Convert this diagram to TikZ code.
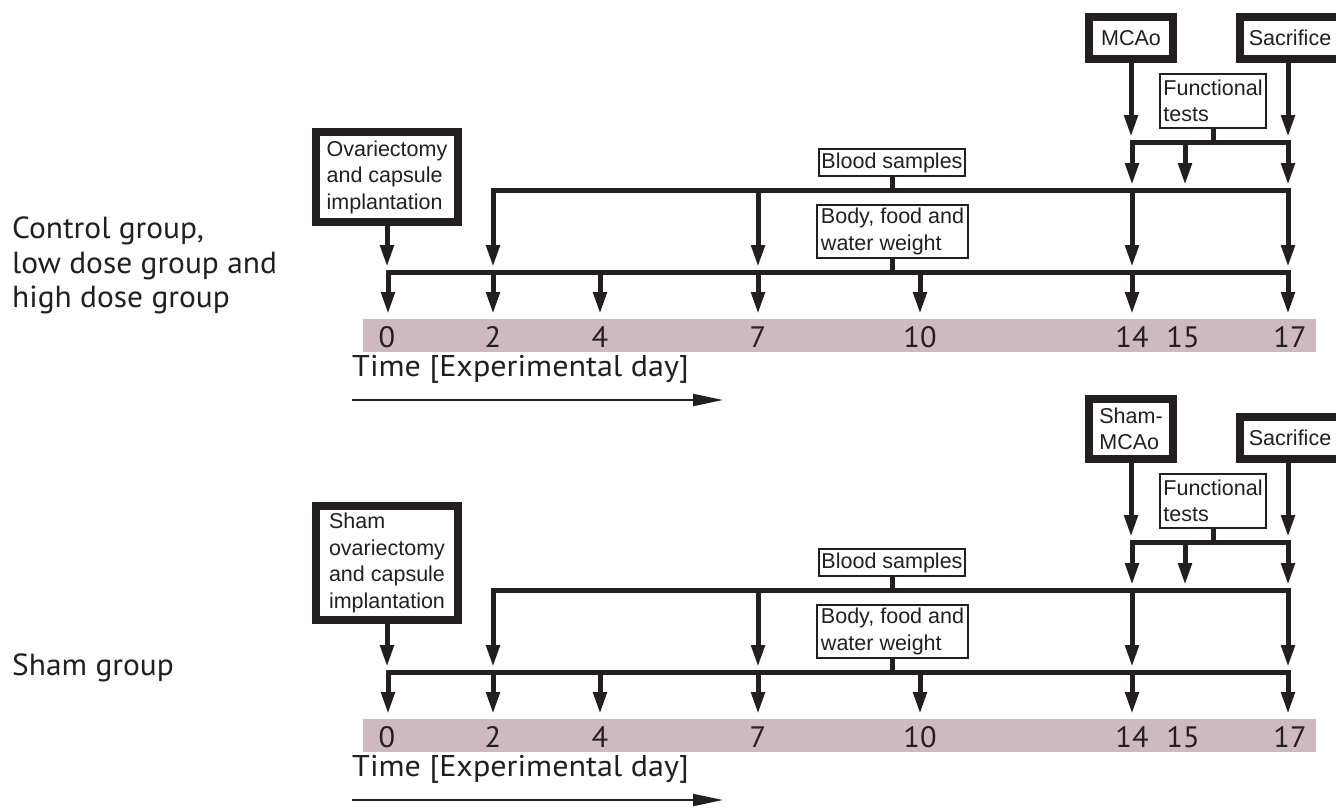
\documentclass[tikz,border=0pt]{standalone}
\usepackage{fontspec}
\setmainfont{Liberation Sans}
\newfontfamily\myr[FakeStretch=1.03]{PT Sans}
\newfontfamily\myrw[FakeStretch=1.07]{PT Sans}
\usetikzlibrary{arrows.meta}
\definecolor{bandpink}{RGB}{206,185,192}
\definecolor{ink}{RGB}{35,31,32}
\newcommand\bxf{\fontsize{21.5pt}{26.5pt}\selectfont}
\newcommand\dayf{\myr\fontsize{29.5pt}{29.5pt}\selectfont}
\newcommand\timef{\myrw\fontsize{30pt}{30pt}\selectfont}
\newcommand\grpf{\myr\fontsize{30.5pt}{35pt}\selectfont}
\tikzset{
  thickbox/.style={draw=ink, line width=8pt, fill=white, align=left, inner sep=1pt, font=\bxf, text=ink},
  thinbox/.style={draw=ink, line width=2pt, fill=white, align=left, inner sep=1pt, font=\bxf, text=ink},
  bar/.style={draw=ink, line width=5pt, line cap=rect},
  flow/.style={draw=ink, line width=5pt, -{Triangle[length=22pt,width=13pt]}, shorten >=5pt},
  band/.style={fill=bandpink, draw=none, inner sep=0pt},
  daylab/.style={font=\dayf, text=ink, anchor=base, inner sep=0pt},
  timelab/.style={font=\timef, text=ink, anchor=base west, inner sep=0pt},
  timearrow/.style={draw=ink, line width=2pt, -{Triangle[length=30pt,width=12pt]}},
  grplab/.style={font=\grpf, text=ink, anchor=base west, inner sep=0pt}
}
% #1 prefix, #2 offset, #3 ova text, #4 ova y, #5 ova h, #6 mcao text, #7 mcao y, #8 mcao h, #9 sac y
\newcommand\panel[9]{%
  \node[thickbox, minimum width=142pt, minimum height=#5pt] (#1ova) at (387,#4) {#3};
  \node[thickbox, minimum width=84pt, minimum height=#8pt] (#1mcao) at (1131,#7) {#6};
  \node[thickbox, minimum width=100pt, minimum height=42pt] (#1sac) at (1290,#9) {Sacrifice};
  \node[thinbox, minimum width=106pt, minimum height=54pt] (#1func) at (1213,{101+#2}) {Functional\\tests};
  \node[thinbox, minimum width=146pt, minimum height=27pt] (#1blood) at (892,{162.5+#2}) {Blood samples};
  \node[thinbox, minimum width=151pt, minimum height=53pt] (#1body) at (892.5,{231.5+#2}) {Body, food and\\water weight};
  \node[band, minimum width=953pt, minimum height=33pt] (#1band) at (839.5,{335.5+#2}) {};
  \coordinate (#1fL) at (1132,{142+#2});
  \coordinate (#1fR) at (1288,{142+#2});
  \coordinate (#1bL) at (493,{190+#2});
  \coordinate (#1bR) at (1288,{190+#2});
  \coordinate (#1wL) at (388,{272+#2});
  \coordinate (#1wR) at (1288,{272+#2});
  \draw[bar] (#1fL) -- (#1fR);
  \draw[bar] (#1bL) -- (#1bR);
  \draw[bar] (#1wL) -- (#1wR);
  \draw[bar] (#1func.south) -- (#1func.south |- #1fL);
  \draw[bar] (#1blood.south) -- (#1blood.south |- #1bL);
  \draw[bar] (#1body.south) -- (#1body.south |- #1wL);
  \draw[flow] (#1mcao.south) -- (#1mcao.south |- #1fL);
  \draw[flow] (#1sac.south -| #1fR) -- (#1fR);
  \draw[flow] (#1ova.south) -- (#1ova.south |- #1wL);
  \foreach \x in {1132,1185,1288} \draw[flow] (\x,{142+#2}) -- (\x,{190+#2});
  \foreach \x in {493,758,1132,1288} \draw[flow] (\x,{190+#2}) -- (\x,{272+#2});
  \foreach \x in {388,493,600,758,920,1132,1288} \draw[flow] (\x,{272+#2}) -- (\x,{319+#2});
  \foreach \x/\d in {387/0,493/2,600/4,758/7,920/10,1132/14,1183/15,1290/17}
    \node[daylab] (#1day\d) at (\x,{347+#2}) {\d};
  \node[timelab] (#1time) at (352,{376+#2}) {Time [Experimental day]};
  \coordinate (#1ta) at (352,{400+#2});
  \coordinate (#1tb) at (723,{400+#2});
  \draw[timearrow] (#1ta) -- (#1tb);
}
\begin{document}
\begin{tikzpicture}[x=1pt,y=-1pt]
\useasboundingbox (0,0) rectangle (1336,808);
\clip (0,0) rectangle (1336,808);
\fill[white] (0,0) rectangle (1336,808);
\panel{t}{0}{Ovariectomy\\and capsule\\implantation}{177}{90}{MCAo}{38}{42}{38}
\panel{s}{400}{Sham\\ovariectomy\\and capsule\\implantation}{563}{114}{Sham-\\MCAo}{429}{60}{438}
\node[grplab] (g1) at (12,238) {Control group,};
\node[grplab] (g2) at (12,273) {low dose group and};
\node[grplab] (g3) at (12,307) {high dose group};
\node[grplab] (g4) at (12,675) {Sham group};
\end{tikzpicture}
\end{document}
